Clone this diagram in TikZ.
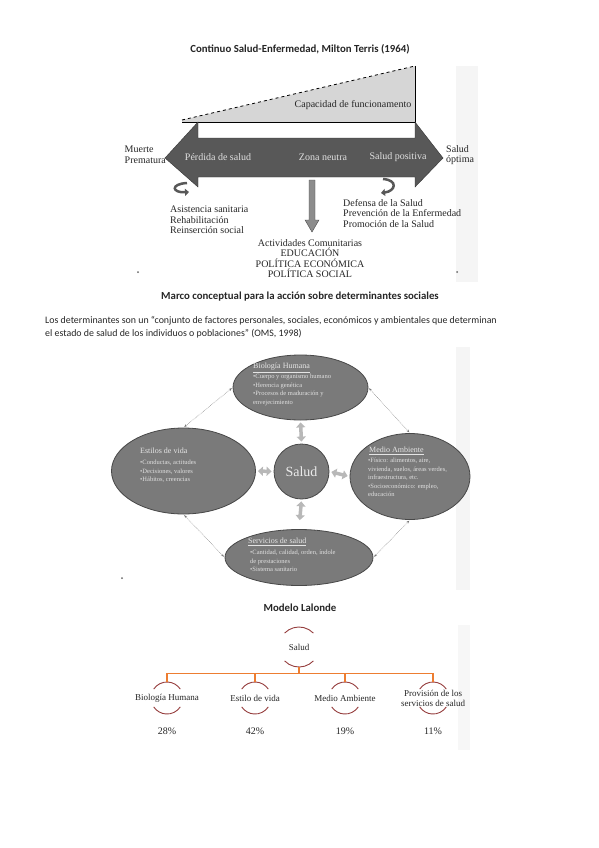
\documentclass[tikz,border=0pt]{standalone}
\usepackage{fontspec}
\setmainfont{Liberation Serif}
\newfontfamily\calibri{Carlito}
\usetikzlibrary{shapes.geometric,arrows.meta}

\definecolor{flecha}{RGB}{88,88,88}
\definecolor{cuna}{RGB}{214,214,214}
\definecolor{elipse}{RGB}{122,122,122}
\definecolor{borde}{RGB}{72,72,72}
\definecolor{naranja}{RGB}{237,125,49}
\definecolor{granate}{RGB}{150,62,62}

\tikzset{
  titulo/.style={font=\calibri\bfseries\fontsize{10.8}{12}\selectfont, text=black!85, inner sep=0pt},
  rotulo/.style={font=\fontsize{10}{10.5}\selectfont, text=black!85, inner sep=0pt},
  enflecha/.style={font=\fontsize{10}{10.5}\selectfont, text=black!12, inner sep=0pt},
  curva/.style={flecha, line width=2.5pt, -{Triangle[length=4pt,width=7pt]}},
  bloque/.style={ellipse, draw=borde, fill=elipse, line width=0.8pt, inner sep=0pt},
  cabecera/.style={font=\fontsize{8}{9}\selectfont, text=white!90!black, inner sep=0pt, anchor=north west},
  lista/.style={font=\fontsize{6.5}{8.5}\selectfont, text=white!88!black, inner sep=0pt, anchor=north west, align=left},
  enlace/.style={densely dotted, black!55, line width=0.5pt, {Stealth[length=3pt]}-{Stealth[length=3pt]}, shorten >=1pt, shorten <=1pt},
  grueso/.style={line width=3.5pt, draw=black!28, {Triangle[width=9pt,length=5pt]}-{Triangle[width=9pt,length=5pt]}, shorten >=2pt, shorten <=2pt},
  rama/.style={naranja, line width=1.3pt},
  arco/.style={granate, line width=0.9pt},
  hoja/.style={font=\fontsize{9}{10}\selectfont, text=black!85, align=center, inner sep=0pt},
  porcentaje/.style={font=\fontsize{10}{11}\selectfont, text=black!85, inner sep=0pt},
}

\begin{document}
\begin{tikzpicture}[x=1pt,y=-1pt]
\useasboundingbox[fill=white] (0,0) rectangle (599,848);

% --- Continuo salud-enfermedad ---
\node[titulo] (terris) at (300,49) {Continuo Salud-Enfermedad, Milton Terris (1964)};
\fill[black!4] (456,66) rectangle (478,282);

\fill[cuna] (182,120) -- (415,66) -- (415,122) -- (182,122) -- cycle;
\draw[thick,dashed] (182,120) -- (415,66);
\draw (415,66) -- (415,122) -- (182,122);
\node[rotulo] (capacidad) at (353,105) {Capacidad de funcionamento};

\draw[fill=flecha, draw=black!80] (165,158) -- (198,122) -- (198,138) -- (415,138) -- (415,122)
  -- (443,158) -- (415,187) -- (415,177) -- (198,177) -- (198,187) -- cycle;
\node[enflecha] (perdida) at (218,157) {Pérdida de salud};
\node[enflecha] (neutra) at (323,157) {Zona neutra};
\node[enflecha] (positiva) at (398,157) {Salud positiva};
\node[rotulo, align=left, anchor=east] (muerte) at (166,155) {Muerte\\Prematura};
\node[rotulo, align=left, anchor=west] (optima) at (446,155) {Salud\\óptima};

\draw[curva] (187,183) .. controls (170,184) and (172,193) .. (189,192);
\draw[curva] (383,179) .. controls (398,180) and (396,191) .. (381,193);
\draw[fill=black!45, draw=black!70] (309,180) -- (315,180) -- (315,220) -- (319,220)
  -- (312,232) -- (305,220) -- (309,220) -- cycle;

\node[rotulo, align=left, anchor=north west] (asistencia) at (170,206)
  {Asistencia sanitaria\\Rehabilitación\\Reinserción social};
\node[rotulo, align=left, anchor=north west] (defensa) at (343,199)
  {Defensa de la Salud\\Prevención de la Enfermedad\\Promoción de la Salud};
\node[rotulo, align=center, anchor=north] (comunitarias) at (310,239)
  {Actividades Comunitarias\\EDUCACIÓN\\POLÍTICA ECONÓMICA\\POLÍTICA SOCIAL};
\fill[black!60] (138,272) circle (1) (457,272) circle (1);

% --- Marco conceptual ---
\node[titulo] (marco) at (300,297) {Marco conceptual para la acción sobre determinantes sociales};
\node[titulo, font=\calibri\fontsize{9.9}{13.5}\selectfont, align=left, anchor=north west] (definicion) at (45,316)
  {Los determinantes son un “conjunto de factores personales, sociales, económicos y ambientales que determinan\\
   el estado de salud de los individuos o poblaciones” (OMS, 1998)};
\fill[black!4] (456,347) rectangle (470,590);

\node[bloque, minimum width=135, minimum height=65] (biologia) at (300.5,387.5) {};
\node[bloque, minimum width=144, minimum height=86] (estilos) at (183.5,471) {};
\node[bloque, minimum width=120, minimum height=86] (medio) at (410,476.5) {};
\node[bloque, minimum width=148, minimum height=56] (servicios) at (299,557.5) {};
\node[circle, draw=borde, fill=elipse, line width=0.8pt, minimum size=55, inner sep=0pt,
  font=\fontsize{14}{14}\selectfont, text=white!92!black] (salud) at (301.5,471.5) {Salud};

\node[cabecera] (t-biologia) at (253,363) {\underline{Biología Humana}};
\node[lista] (l-biologia) at (253,374) {•Cuerpo y organismo humano\\•Herencia genética\\•Procesos de maduración y\\envejecimiento};
\node[cabecera] (t-estilos) at (140,448) {Estilos de vida};
\node[lista] (l-estilos) at (140,460) {•Conductas, actitudes\\•Decisiones, valores\\•Hábitos, creencias};
\node[cabecera] (t-medio) at (369,447) {\underline{Medio Ambiente}};
\node[lista] (l-medio) at (368,458) {•Físico: alimentos, aire,\\vivienda, suelos, áreas verdes,\\infraestructura, etc.\\•Socioeconómico: empleo,\\educación};
\node[cabecera] (t-servicios) at (248,538) {\underline{Servicios de salud}};
\node[lista] (l-servicios) at (250,550) {•Cantidad, calidad, orden, índole\\de prestaciones\\•Sistema sanitario};

\draw[enlace] (biologia.west) -- (estilos.north);
\draw[enlace] (biologia.east) -- (medio.north);
\draw[enlace] (estilos.south) -- (servicios.west);
\draw[enlace] (servicios.east) -- (medio.south);

\draw[grueso] (biologia.south) -- (salud.north);
\draw[grueso] (estilos.east) -- (salud.west);
\draw[grueso] (salud.east) -- (medio.west);
\draw[grueso, shorten >=9pt] (salud.south) -- (servicios.north);
\fill[black!60] (122,578) circle (1);

% --- Modelo Lalonde ---
\node[titulo] (lalonde) at (300,608) {Modelo Lalonde};
\fill[black!3] (458,625) rectangle (470,750);

\node[circle, minimum size=40, inner sep=0pt] (raiz) at (299,647) {};
\node[hoja] (raiz-txt) at (raiz) {Salud};
\draw[arco] (raiz.center) ++(224:20) arc[start angle=224, end angle=316, radius=20];
\draw[arco] (raiz.center) ++(44:20) arc[start angle=44, end angle=136, radius=20];
\draw[rama] (raiz.south) -- ++(0,6) coordinate (barra);

\foreach \nom/\px/\txt/\pct in {biol/167/Biología Humana/28, vida/255/Estilo de vida/42,
    ambiente/345/Medio Ambiente/19, provision/433/{Provisión de los\\servicios de salud}/11}{
  \node[circle, minimum size=32, inner sep=0pt] (\nom) at (\px,698) {};
  \node[hoja] (\nom-txt) at (\nom) {\txt};
  \node[porcentaje] (\nom-pct) at (\px,731) {\pct\%};
  \draw[arco] (\nom.center) ++(214:16) arc[start angle=214, end angle=326, radius=16];
  \draw[arco] (\nom.center) ++(34:16) arc[start angle=34, end angle=146, radius=16];
  \draw[rama] (barra) -| (\nom.north);
}
\end{tikzpicture}
\end{document}
